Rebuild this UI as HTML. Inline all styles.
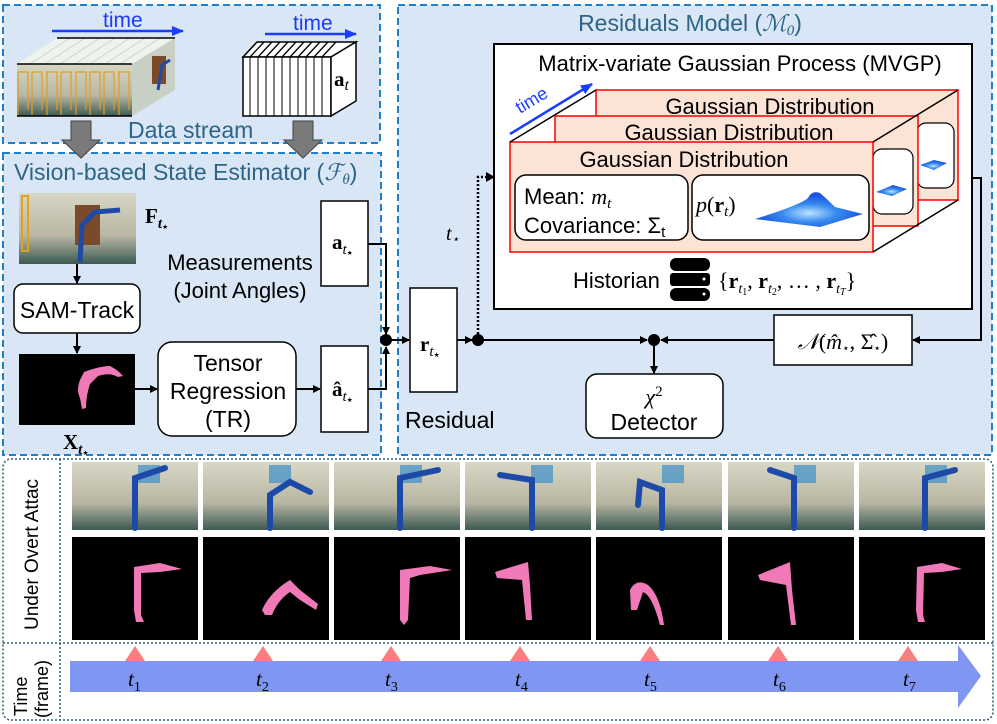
<!DOCTYPE html>
<html><head><meta charset="utf-8"><style>
html,body{margin:0;padding:0;background:#fff;}
svg{display:block;font-family:"Liberation Sans",sans-serif;}
.s{font-family:"Liberation Serif",serif;}
</style></head><body>
<svg width="997" height="724" viewBox="0 0 997 724" xmlns="http://www.w3.org/2000/svg">
<defs>
<marker id="ah" markerWidth="8" markerHeight="8" refX="7" refY="4" orient="auto" markerUnits="userSpaceOnUse"><path d="M0,0 L8,4 L0,8 Z" fill="#000"/></marker>
<marker id="bh" markerWidth="12" markerHeight="10" refX="11" refY="5" orient="auto" markerUnits="userSpaceOnUse"><path d="M0,0 L12,5 L0,10 Z" fill="#1a3cff"/></marker>
<linearGradient id="photo" x1="0" y1="0" x2="0" y2="1"><stop offset="0" stop-color="#d8d6c4"/><stop offset="0.6" stop-color="#b9b7a4"/><stop offset="1" stop-color="#3d5a52"/></linearGradient>
<radialGradient id="gauss" cx="0.5" cy="0.6" r="0.5"><stop offset="0" stop-color="#bfe3ff"/><stop offset="0.5" stop-color="#3a8cf0"/><stop offset="1" stop-color="#1a55e0"/></radialGradient>
</defs>

<!-- panels -->
<rect x="3" y="5" width="377" height="138" fill="#d9e6f5" stroke="#1f7fc8" stroke-width="2" stroke-dasharray="7,4"/>
<rect x="3" y="153" width="378" height="302" fill="#d9e6f5" stroke="#1f7fc8" stroke-width="2" stroke-dasharray="7,4"/>
<rect x="398" y="5" width="594" height="450" fill="#d9e6f5" stroke="#1f7fc8" stroke-width="2" stroke-dasharray="7,4"/>

<!-- data stream left stack -->
<line x1="52" y1="31" x2="183" y2="31" stroke="#1a3cff" stroke-width="2.5" marker-end="url(#bh)"/>
<text x="103" y="27" font-size="21" fill="#1a3cff">time</text>
<polygon points="17,64 57,38 175,38 175,90 132,116 17,116" fill="#eef3ee"/>
<g stroke="#c9d6c9" stroke-width="1">
<line x1="30" y1="64" x2="70" y2="38"/><line x1="45" y1="64" x2="85" y2="38"/><line x1="60" y1="64" x2="100" y2="38"/><line x1="75" y1="64" x2="115" y2="38"/><line x1="90" y1="64" x2="130" y2="38"/><line x1="105" y1="64" x2="145" y2="38"/><line x1="120" y1="64" x2="160" y2="38"/>
</g>
<rect x="17" y="64" width="115" height="52" fill="url(#photo)"/>
<g stroke="#e0a020" stroke-width="1.2" fill="none">
<path d="M18,115 V72 H28 V110"/><path d="M32,115 V72 H42 V110"/><path d="M47,115 V72 H57 V110"/><path d="M61,115 V72 H71 V110"/><path d="M76,115 V72 H86 V110"/><path d="M90,115 V72 H100 V110"/><path d="M104,115 V72 H114 V110"/><path d="M119,115 V72 H129 V110"/>
</g>
<polygon points="132,116 132,64 175,38 175,90" fill="#c8cfc4"/>
<rect x="152" y="56" width="14" height="28" fill="#7a4a2a"/>
<path d="M158,90 L162,65 L170,60" stroke="#1d4aa8" stroke-width="3" fill="none"/>
<line x1="57" y1="38" x2="175" y2="38" stroke="#000" stroke-width="1.5"/>
<line x1="17" y1="64" x2="132" y2="64" stroke="#000" stroke-width="1.5"/>
<line x1="17" y1="116" x2="132" y2="116" stroke="#000" stroke-width="1.5"/>

<!-- data stream right stack -->
<line x1="265" y1="34" x2="356" y2="34" stroke="#1a3cff" stroke-width="2.5" marker-end="url(#bh)"/>
<text x="293" y="30" font-size="21" fill="#1a3cff">time</text>
<polygon points="243,57 257,42 356,42 331,57" fill="#fff" stroke="#000" stroke-width="1.5"/>
<g stroke="#000" stroke-width="1.3">
<line x1="250" y1="57" x2="264" y2="42"/><line x1="258" y1="57" x2="272" y2="42"/><line x1="266" y1="57" x2="280" y2="42"/><line x1="274" y1="57" x2="288" y2="42"/><line x1="282" y1="57" x2="296" y2="42"/><line x1="290" y1="57" x2="304" y2="42"/><line x1="298" y1="57" x2="312" y2="42"/><line x1="306" y1="57" x2="320" y2="42"/><line x1="314" y1="57" x2="328" y2="42"/><line x1="322" y1="57" x2="336" y2="42"/>
</g>
<rect x="243" y="57" width="88" height="59" fill="#fff" stroke="#000" stroke-width="1.5"/>
<g stroke="#000" stroke-width="1">
<line x1="250" y1="57" x2="250" y2="116"/><line x1="258" y1="57" x2="258" y2="116"/><line x1="266" y1="57" x2="266" y2="116"/><line x1="274" y1="57" x2="274" y2="116"/><line x1="282" y1="57" x2="282" y2="116"/><line x1="290" y1="57" x2="290" y2="116"/><line x1="298" y1="57" x2="298" y2="116"/><line x1="306" y1="57" x2="306" y2="116"/><line x1="314" y1="57" x2="314" y2="116"/><line x1="322" y1="57" x2="322" y2="116"/>
</g>
<polygon points="331,57 356,42 356,101 331,116" fill="#fff" stroke="#000" stroke-width="1.5"/>
<text x="334" y="86" font-size="21" class="s" font-weight="bold">a<tspan font-style="italic" font-weight="normal" font-size="16" dy="4">t</tspan></text>
<text x="128" y="138" font-size="23" fill="#2e6486">Data stream</text>

<!-- gray arrows -->
<polygon points="71,121 91,121 91,140 100,140 81,158 62,140 71,140" fill="#7a7a7a" stroke="#444" stroke-width="1"/>
<polygon points="293,121 313,121 313,140 322,140 303,158 284,140 293,140" fill="#7a7a7a" stroke="#444" stroke-width="1"/>

<!-- vision panel -->
<text x="14" y="180" font-size="23" fill="#2e6486">Vision-based State Estimator (<tspan class="s" font-style="italic">ℱ<tspan font-size="15" dy="4">θ</tspan></tspan><tspan dy="-4">)</tspan></text>
<rect x="19" y="193" width="117" height="71" fill="url(#photo)"/>
<rect x="75" y="205" width="25" height="40" fill="#7a4a2a"/>
<path d="M80,262 L82,225 L95,212 L120,210" stroke="#1d4aa8" stroke-width="5" fill="none"/>
<rect x="22" y="196" width="6" height="55" fill="none" stroke="#e0a020" stroke-width="2"/>
<text x="145" y="223" font-size="21" class="s" font-weight="bold">F<tspan font-size="15" font-style="italic" dy="5">t</tspan><tspan font-size="10" dy="2">⋆</tspan></text>
<line x1="77" y1="264" x2="77" y2="283" stroke="#000" stroke-width="2" marker-end="url(#ah)"/>
<rect x="14" y="284" width="126" height="49" rx="9" fill="#fff" stroke="#000" stroke-width="1.5"/>
<text x="77" y="318" font-size="23" text-anchor="middle">SAM-Track</text>
<line x1="77" y1="333" x2="77" y2="353" stroke="#000" stroke-width="2" marker-end="url(#ah)"/>
<rect x="19" y="354" width="116" height="71" fill="#000"/>
<path d="M84,372 Q100,366 110,366 Q118,370 123,376 L118,377 Q110,372 98,376 L90,384 Q86,396 86,408 L82,409 L80,398 Q76,390 80,380 Z" fill="#f07ab8"/>
<text x="63" y="449" font-size="21" class="s" font-weight="bold">X<tspan font-size="15" font-style="italic" dy="5">t</tspan><tspan font-size="10" dy="2">⋆</tspan></text>
<line x1="135" y1="389" x2="157" y2="389" stroke="#000" stroke-width="2" marker-end="url(#ah)"/>
<rect x="158" y="342" width="138" height="94" rx="14" fill="#fff" stroke="#000" stroke-width="1.5"/>
<text x="228" y="371" font-size="23" text-anchor="middle">Tensor</text>
<text x="228" y="399" font-size="23" text-anchor="middle">Regression</text>
<text x="228" y="427" font-size="23" text-anchor="middle">(TR)</text>
<line x1="296" y1="389" x2="320" y2="389" stroke="#000" stroke-width="2" marker-end="url(#ah)"/>
<text x="240" y="270" font-size="22" text-anchor="middle">Measurements</text>
<text x="240" y="298" font-size="22" text-anchor="middle">(Joint Angles)</text>
<rect x="321" y="201" width="47" height="85" fill="#fff" stroke="#000" stroke-width="1.5"/>
<text x="332" y="249" font-size="21" class="s" font-weight="bold">a<tspan font-size="15" font-style="italic" font-weight="normal" dy="5">t</tspan><tspan font-size="10" dy="2">⋆</tspan></text>
<rect x="321" y="346" width="47" height="86" fill="#fff" stroke="#000" stroke-width="1.5"/>
<text x="332" y="396" font-size="21" class="s" font-weight="bold">â<tspan font-size="15" font-style="italic" font-weight="normal" dy="5">t</tspan><tspan font-size="10" dy="2">⋆</tspan></text>
<polyline points="368,244 386,244 386,334" fill="none" stroke="#000" stroke-width="2" marker-end="url(#ah)"/>
<polyline points="368,389 386,389 386,347" fill="none" stroke="#000" stroke-width="2" marker-end="url(#ah)"/>
<circle cx="386" cy="340" r="6" fill="#000"/>
<line x1="386" y1="340" x2="409" y2="340" stroke="#000" stroke-width="2" marker-end="url(#ah)"/>

<!-- residual -->
<rect x="410" y="288" width="47" height="104" fill="#fff" stroke="#000" stroke-width="1.5"/>
<text x="420" y="351" font-size="21" class="s" font-weight="bold">r<tspan font-size="15" font-style="italic" font-weight="normal" dy="5">t</tspan><tspan font-size="10" dy="2">⋆</tspan></text>
<text x="405" y="428" font-size="23">Residual</text>
<line x1="457" y1="340" x2="472" y2="340" stroke="#000" stroke-width="2" marker-end="url(#ah)"/>
<circle cx="478" cy="340" r="6" fill="#000"/>
<polyline points="478,334 478,177 493,177" fill="none" stroke="#000" stroke-width="2.5" stroke-dasharray="2,2"/>
<path d="M486,172 L495,177 L486,182 Z" fill="#000"/>
<text x="446" y="240" font-size="20" class="s" font-style="italic">t<tspan font-size="12" dy="3">⋆</tspan></text>
<line x1="478" y1="340" x2="647" y2="340" stroke="#000" stroke-width="2" marker-end="url(#ah)"/>

<!-- residuals model -->
<text x="690" y="31" font-size="23" fill="#2e6486" text-anchor="middle">Residuals Model (<tspan class="s" font-style="italic">ℳ<tspan font-size="15" dy="4">0</tspan></tspan><tspan dy="-4">)</tspan></text>
<rect x="494" y="44" width="478" height="265" fill="#fff" stroke="#000" stroke-width="2"/>
<text x="740" y="71" font-size="22" text-anchor="middle">Matrix-variate Gaussian Process (MVGP)</text>
<line x1="510" y1="134" x2="592" y2="84" stroke="#1a3cff" stroke-width="2.5" marker-end="url(#bh)"/>
<text x="520" y="114" font-size="18" fill="#1a3cff" transform="rotate(-31 520 114)">time</text>
<rect x="596" y="90" width="362" height="110" fill="#fbe3d6" stroke="#f00" stroke-width="1.5"/>
<rect x="917" y="123" width="37" height="65" rx="9" fill="#fff" stroke="#000" stroke-width="1.2"/>
<path d="M920,165 L934,160 L947,163 L934,170 Z" fill="url(#gauss)"/>
<text x="770" y="114" font-size="22" text-anchor="middle">Gaussian Distribution</text>
<rect x="555" y="116" width="363" height="110" fill="#fbe3d6" stroke="#f00" stroke-width="1.5"/>
<rect x="873" y="149" width="40" height="65" rx="9" fill="#fff" stroke="#000" stroke-width="1.2"/>
<path d="M876,192 L893,185 L907,189 L892,196 Z" fill="url(#gauss)"/>
<text x="729" y="140" font-size="22" text-anchor="middle">Gaussian Distribution</text>
<rect x="510" y="142" width="363" height="110" fill="#fbe3d6" stroke="#f00" stroke-width="1.5"/>
<line x1="510" y1="142" x2="596" y2="90" stroke="#000" stroke-width="1.5"/>
<line x1="873" y1="142" x2="958" y2="90" stroke="#000" stroke-width="1.5"/>
<line x1="873" y1="252" x2="958" y2="200" stroke="#000" stroke-width="1.5"/>
<text x="684" y="167" font-size="22" text-anchor="middle">Gaussian Distribution</text>
<rect x="515" y="175" width="173" height="65" rx="11" fill="#fff" stroke="#000" stroke-width="1.5"/>
<text x="524" y="204" font-size="22">Mean: <tspan class="s" font-style="italic">m<tspan font-size="15" dy="4">t</tspan></tspan></text>
<text x="524" y="233" font-size="22">Covariance: Σ<tspan font-size="15" dy="4">t</tspan></text>
<rect x="692" y="175" width="177" height="65" rx="11" fill="#fff" stroke="#000" stroke-width="1.5"/>
<text x="696" y="212" font-size="22" class="s"><tspan font-style="italic">p</tspan>(<tspan font-weight="bold">r</tspan><tspan font-size="15" font-style="italic" dy="4">t</tspan><tspan dy="-4">)</tspan></text>
<path d="M755,219 Q800,205 808,198 Q812,190 820,193 Q828,200 835,207 L863,214 L820,227 Z" fill="url(#gauss)"/>
<text x="573" y="288" font-size="22">Historian</text>
<g fill="#000">
<rect x="670" y="258" width="40" height="13" rx="6"/><rect x="670" y="273" width="40" height="13" rx="3"/><rect x="670" y="288" width="40" height="13" rx="6"/>
</g>
<g fill="#fff"><circle cx="704" cy="279" r="1.5"/><circle cx="704" cy="294" r="1.5"/></g>
<text x="718" y="288" font-size="22" class="s">{<tspan font-weight="bold">r</tspan><tspan font-size="14" font-style="italic" dy="5">t</tspan><tspan font-size="10" dy="2">1</tspan><tspan dy="-7">, </tspan><tspan font-weight="bold">r</tspan><tspan font-size="14" font-style="italic" dy="5">t</tspan><tspan font-size="10" dy="2">2</tspan><tspan dy="-7">, … , </tspan><tspan font-weight="bold">r</tspan><tspan font-size="14" font-style="italic" dy="5">t</tspan><tspan font-size="10" font-style="italic" dy="2">T</tspan><tspan dy="-7">}</tspan></text>
<polyline points="972,178 981,178 981,340 913,340" fill="none" stroke="#000" stroke-width="2" marker-end="url(#ah)"/>
<rect x="774" y="315" width="138" height="50" fill="#fff" stroke="#000" stroke-width="1.5"/>
<text x="843" y="349" font-size="22" class="s" text-anchor="middle"><tspan font-style="italic">𝒩</tspan>(<tspan font-style="italic">m̂</tspan><tspan font-size="12" dy="3">⋆</tspan><tspan dy="-3">, Σ̂</tspan><tspan font-size="12" dy="3">⋆</tspan><tspan dy="-3">)</tspan></text>
<line x1="774" y1="340" x2="661" y2="340" stroke="#000" stroke-width="2" marker-end="url(#ah)"/>
<circle cx="654" cy="340" r="6" fill="#000"/>
<line x1="654" y1="340" x2="654" y2="373" stroke="#000" stroke-width="2" marker-end="url(#ah)"/>
<rect x="586" y="374" width="137" height="64" rx="11" fill="#fff" stroke="#000" stroke-width="1.5"/>
<text x="654" y="404" font-size="22" class="s" text-anchor="middle"><tspan font-style="italic">χ</tspan><tspan font-size="15" dy="-8">2</tspan></text>
<text x="654" y="430" font-size="23" text-anchor="middle">Detector</text>

<!-- bottom section -->
<rect x="3" y="459" width="990" height="261" rx="8" fill="none" stroke="#2b5d70" stroke-width="1.5" stroke-dasharray="2,2"/>
<line x1="3" y1="643" x2="993" y2="643" stroke="#2b5d70" stroke-width="1.5" stroke-dasharray="2,2"/>
<line x1="60" y1="459" x2="60" y2="720" stroke="#2b5d70" stroke-width="1.5" stroke-dasharray="2,2"/>
<text transform="translate(38 630) rotate(-90)" font-size="19">Under Overt Attac</text>
<text transform="translate(27 716) rotate(-90)" font-size="18">Time</text>
<text transform="translate(48 718) rotate(-90)" font-size="18">(frame)</text>

<g>
<rect x="72" y="462" width="126" height="68" fill="url(#photo)"/>
<rect x="203" y="462" width="126" height="68" fill="url(#photo)"/>
<rect x="334" y="462" width="126" height="68" fill="url(#photo)"/>
<rect x="465" y="462" width="126" height="68" fill="url(#photo)"/>
<rect x="596" y="462" width="126" height="68" fill="url(#photo)"/>
<rect x="728" y="462" width="126" height="68" fill="url(#photo)"/>
<rect x="859" y="462" width="126" height="68" fill="url(#photo)"/>
</g>
<g fill="#3c8fc8" opacity="0.7">
<rect x="138" y="465" width="22" height="18"/><rect x="269" y="465" width="22" height="18"/><rect x="400" y="465" width="22" height="18"/><rect x="531" y="465" width="22" height="18"/><rect x="662" y="465" width="22" height="18"/><rect x="794" y="465" width="22" height="18"/><rect x="925" y="465" width="22" height="18"/>
</g>
<g stroke="#1d4aa8" stroke-width="6" fill="none" stroke-linecap="round">
<path d="M135,528 L135,478 L165,468"/>
<path d="M270,528 L270,495 L290,482 L310,492"/>
<path d="M400,528 L400,478 L438,470"/>
<path d="M532,528 L532,480 L500,475"/>
<path d="M662,528 L662,490 L640,482 L638,505"/>
<path d="M794,528 L794,478 L770,470"/>
<path d="M925,528 L925,478 L955,470"/>
</g>
<g fill="#000">
<rect x="72" y="537" width="126" height="103"/><rect x="203" y="537" width="126" height="103"/><rect x="334" y="537" width="126" height="103"/><rect x="465" y="537" width="126" height="103"/><rect x="596" y="537" width="126" height="103"/><rect x="728" y="537" width="126" height="103"/><rect x="859" y="537" width="126" height="103"/>
</g>
<g fill="#f07ab8">
<path d="M134,567 L160,563 L182,569 L160,572 L141,573 L141,615 L144,622 L136,622 L134,610 Z"/>
<path d="M262,610 Q270,592 290,580 L300,590 L318,604 L316,610 L300,600 L290,592 Q278,600 272,615 L265,615 Z"/>
<path d="M400,570 L430,566 L452,570 L420,575 L410,578 L408,620 L404,625 L400,620 Z"/>
<path d="M495,572 L528,562 L530,585 L532,620 L526,620 L522,580 L497,578 Z"/>
<path d="M630,590 Q636,578 648,585 Q660,595 664,625 L660,625 Q652,595 643,592 L637,610 L631,610 Z"/>
<path d="M758,575 L790,562 L792,590 L796,625 L791,625 L786,585 L760,580 Z"/>
<path d="M917,567 L942,563 L962,569 L942,572 L924,573 L923,615 L925,622 L918,622 L916,610 Z"/>
</g>

<!-- timeline -->
<polygon points="70,661 958,661 958,645 981,676 958,708 958,692 70,692" fill="#7f96f2"/>
<g fill="#f67f7f">
<polygon points="125,661 135,646 145,661"/><polygon points="253,661 263,646 273,661"/><polygon points="381,661 391,646 401,661"/><polygon points="510,661 520,646 530,661"/><polygon points="640,661 650,646 660,661"/><polygon points="768,661 778,646 788,661"/><polygon points="898,661 908,646 918,661"/>
</g>
<g font-size="21" class="s" font-style="italic">
<text x="128" y="686">t<tspan font-size="14" font-style="normal" dy="5">1</tspan></text>
<text x="256" y="686">t<tspan font-size="14" font-style="normal" dy="5">2</tspan></text>
<text x="385" y="686">t<tspan font-size="14" font-style="normal" dy="5">3</tspan></text>
<text x="515" y="686">t<tspan font-size="14" font-style="normal" dy="5">4</tspan></text>
<text x="644" y="686">t<tspan font-size="14" font-style="normal" dy="5">5</tspan></text>
<text x="773" y="686">t<tspan font-size="14" font-style="normal" dy="5">6</tspan></text>
<text x="903" y="686">t<tspan font-size="14" font-style="normal" dy="5">7</tspan></text>
</g>
</svg>
</body></html>
